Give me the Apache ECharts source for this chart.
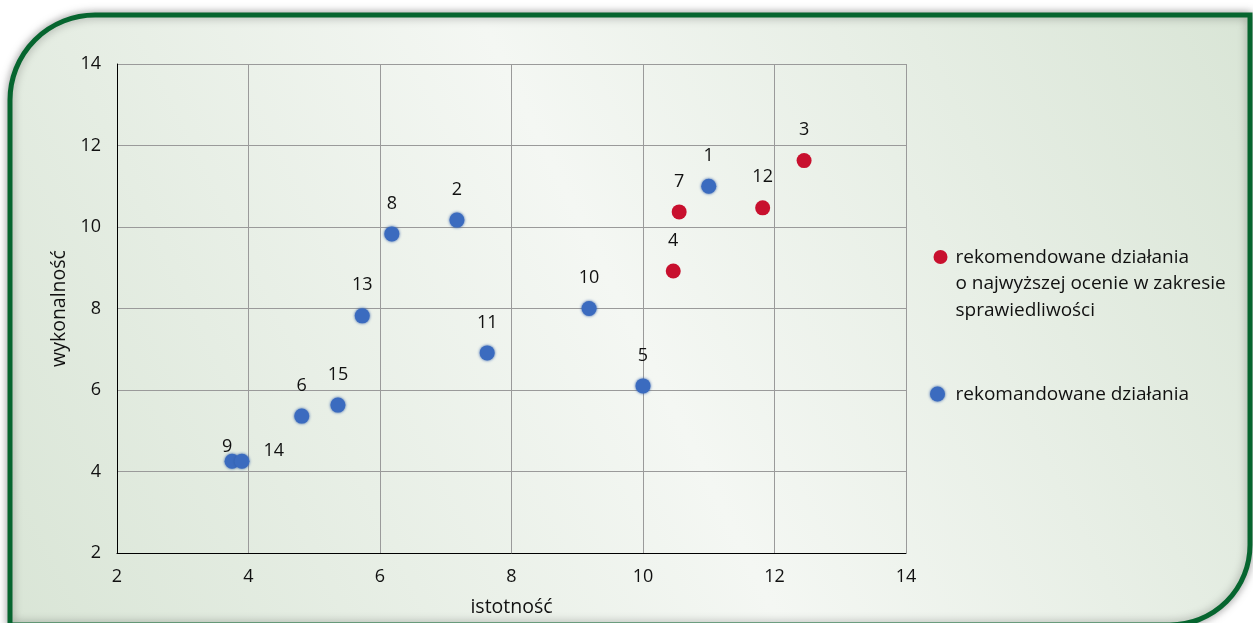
<!DOCTYPE html>
<html>
<head>
<meta charset="utf-8">
<script src="https://cdn.jsdelivr.net/npm/echarts@6/dist/echarts.min.js"></script>
<style>
  html, body { margin: 0; padding: 0; background: #ffffff; }
  #chart { width: 1253px; height: 623px; }
</style>
</head>
<body>
<div id="chart"></div>
<script>
// Axis titles and ticks
const xAxisName = 'istotność';
const yAxisName = 'wykonalność';
const axisMin = 2, axisMax = 14, axisStep = 2;

// Legend / series names
const nameTop = 'rekomendowane działania\no najwyższej ocenie w zakresie\nsprawiedliwości';
const nameAll = 'rekomandowane działania';

// Recommended actions: ids, importance (x), feasibility (y)
const blueIds = ['1', '2', '5', '6', '8', '9', '10', '11', '13', '14', '15'];
const blueX   = [11.0, 7.17, 10.0, 4.81, 6.18, 3.75, 9.18, 7.63, 5.73, 3.90, 5.36];
const blueY   = [11.0, 10.17, 6.10, 5.36, 9.83, 4.25, 8.00, 6.91, 7.82, 4.25, 5.63];

// Top-rated actions for fairness
const redIds = ['3', '4', '7', '12'];
const redX   = [12.45, 10.46, 10.55, 11.82];
const redY   = [11.63, 8.92, 10.37, 10.47];

const FONT = '"Open Sans", "DejaVu Sans", sans-serif';
const TEXT = '#111111';
const BLUE = '#3b6bbf';
const RED = '#c8102e';

// label tweaks for the two overlapping points at the lower left
const labelTweaks = {
  '9':  { position: 'top', distance: 0, offset: [-5, 2] },
  '14': { position: 'right', distance: 0, offset: [14, -10] }
};

function buildData(ids, xs, ys) {
  return ids.map((id, i) => {
    const item = { name: id, value: [xs[i], ys[i]] };
    if (labelTweaks[id]) item.label = labelTweaks[id];
    return item;
  });
}

const chart = echarts.init(document.getElementById('chart'), null, { renderer: 'canvas' });

const labelStyle = {
  show: true,
  position: 'top',
  distance: 14,
  formatter: p => p.name,
  color: TEXT,
  fontFamily: FONT,
  fontSize: 18
};

chart.setOption({
  animation: false,
  graphic: [
    {
      type: 'rect',
      z: -10,
      silent: true,
      shape: { x: 10, y: 15, width: 1240, height: 610, r: [85, 0, 80, 0] },
      style: {
        fill: new echarts.graphic.LinearGradient(0, 1, 1, 0, [
          { offset: 0, color: '#d9e5d6' },
          { offset: 0.5, color: '#f4f7f3' },
          { offset: 1, color: '#d9e5d6' }
        ]),
        stroke: '#06652f',
        lineWidth: 5,
        shadowBlur: 10,
        shadowColor: 'rgba(0,0,0,0.35)'
      }
    },
    // legend
    {
      type: 'group',
      left: 930,
      top: 244,
      children: [
        { type: 'circle', shape: { cx: 7, cy: 13, r: 7 }, style: { fill: RED } },
        {
          type: 'text', left: 22, top: 0,
          style: { text: nameTop, fill: TEXT, font: '19px ' + FONT, lineHeight: 26.5 }
        },
        {
          type: 'circle', shape: { cx: 4, cy: 150, r: 7.5 },
          style: { fill: BLUE, shadowBlur: 3, shadowColor: '#2d5aa8' }
        },
        {
          type: 'text', left: 22, top: 137,
          style: { text: nameAll, fill: TEXT, font: '19px ' + FONT, lineHeight: 26.5 }
        }
      ]
    }
  ],
  grid: { left: 117, right: 347, top: 64, bottom: 70, show: false },
  xAxis: {
    type: 'value',
    min: axisMin, max: axisMax, interval: axisStep,
    name: xAxisName,
    nameLocation: 'middle',
    nameGap: 44,
    nameTextStyle: { color: TEXT, fontFamily: FONT, fontSize: 19.5 },
    axisLine: { show: true, onZero: false, lineStyle: { color: '#000', width: 1 } },
    axisTick: { show: false },
    axisLabel: { color: TEXT, fontFamily: FONT, fontSize: 18, margin: 15 },
    splitLine: { show: true, lineStyle: { color: '#9a9a9a', width: 1 } }
  },
  yAxis: {
    type: 'value',
    min: axisMin, max: axisMax, interval: axisStep,
    name: yAxisName,
    nameLocation: 'middle',
    nameGap: 42,
    nameTextStyle: { color: TEXT, fontFamily: FONT, fontSize: 19.5 },
    axisLine: { show: true, onZero: false, lineStyle: { color: '#000', width: 1 } },
    axisTick: { show: false },
    axisLabel: { color: TEXT, fontFamily: FONT, fontSize: 18, margin: 16 },
    splitLine: { show: true, lineStyle: { color: '#9a9a9a', width: 1 } }
  },
  series: [
    {
      name: nameTop,
      type: 'scatter',
      symbol: 'circle',
      symbolSize: 15,
      itemStyle: { color: RED, opacity: 1 },
      label: labelStyle,
      data: buildData(redIds, redX, redY)
    },
    {
      name: nameAll,
      type: 'scatter',
      symbol: 'circle',
      symbolSize: 15,
      itemStyle: { color: BLUE, opacity: 1, shadowBlur: 3, shadowColor: '#2d5aa8' },
      label: labelStyle,
      data: buildData(blueIds, blueX, blueY)
    }
  ]
});
</script>
</body>
</html>
